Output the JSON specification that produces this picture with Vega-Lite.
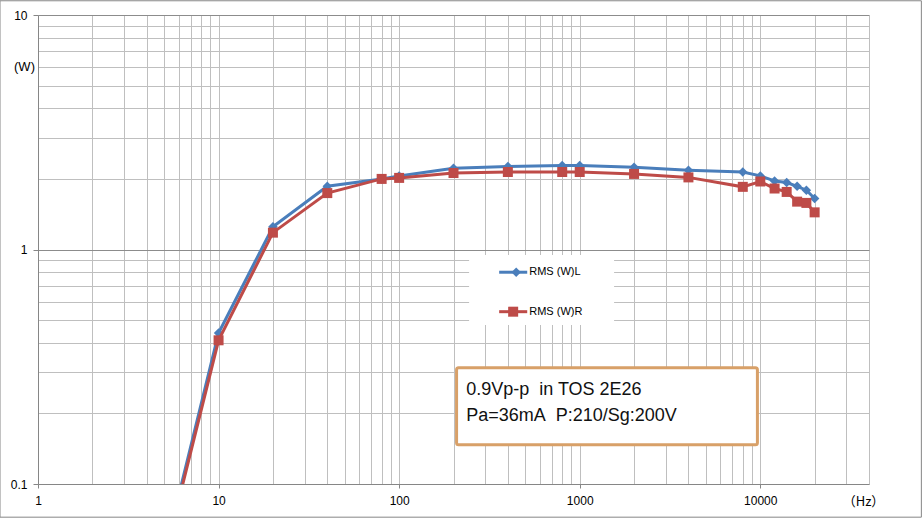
{
  "$schema": "https://vega.github.io/schema/vega-lite/v6.json",
  "autosize": {"type": "none"},
  "width": 831,
  "height": 469,
  "padding": {"left": 38, "top": 15, "right": 55, "bottom": 35},
  "background": "white",
  "config": {"view": {"stroke": null}, "font": "Liberation Sans"},
  "datasets": {
    "rms": [
      {"freq": 5, "series": "RMS (W)L", "w": 0.05},
      {"freq": 10, "series": "RMS (W)L", "w": 0.44},
      {"freq": 20, "series": "RMS (W)L", "w": 1.25},
      {"freq": 40, "series": "RMS (W)L", "w": 1.86},
      {"freq": 80, "series": "RMS (W)L", "w": 2.0},
      {"freq": 100, "series": "RMS (W)L", "w": 2.06},
      {"freq": 200, "series": "RMS (W)L", "w": 2.22},
      {"freq": 400, "series": "RMS (W)L", "w": 2.26},
      {"freq": 800, "series": "RMS (W)L", "w": 2.28},
      {"freq": 1000, "series": "RMS (W)L", "w": 2.28},
      {"freq": 2000, "series": "RMS (W)L", "w": 2.24},
      {"freq": 4000, "series": "RMS (W)L", "w": 2.18},
      {"freq": 8000, "series": "RMS (W)L", "w": 2.14},
      {"freq": 10000, "series": "RMS (W)L", "w": 2.06},
      {"freq": 12000, "series": "RMS (W)L", "w": 1.96},
      {"freq": 14000, "series": "RMS (W)L", "w": 1.93},
      {"freq": 16000, "series": "RMS (W)L", "w": 1.86},
      {"freq": 18000, "series": "RMS (W)L", "w": 1.79},
      {"freq": 20000, "series": "RMS (W)L", "w": 1.65},
      {"freq": 5, "series": "RMS (W)R", "w": 0.048},
      {"freq": 10, "series": "RMS (W)R", "w": 0.41},
      {"freq": 20, "series": "RMS (W)R", "w": 1.18},
      {"freq": 40, "series": "RMS (W)R", "w": 1.74},
      {"freq": 80, "series": "RMS (W)R", "w": 2.0},
      {"freq": 100, "series": "RMS (W)R", "w": 2.02},
      {"freq": 200, "series": "RMS (W)R", "w": 2.12},
      {"freq": 400, "series": "RMS (W)R", "w": 2.14},
      {"freq": 800, "series": "RMS (W)R", "w": 2.14},
      {"freq": 1000, "series": "RMS (W)R", "w": 2.14},
      {"freq": 2000, "series": "RMS (W)R", "w": 2.1},
      {"freq": 4000, "series": "RMS (W)R", "w": 2.03},
      {"freq": 8000, "series": "RMS (W)R", "w": 1.85},
      {"freq": 10000, "series": "RMS (W)R", "w": 1.95},
      {"freq": 12000, "series": "RMS (W)R", "w": 1.82},
      {"freq": 14000, "series": "RMS (W)R", "w": 1.76},
      {"freq": 16000, "series": "RMS (W)R", "w": 1.6},
      {"freq": 18000, "series": "RMS (W)R", "w": 1.58},
      {"freq": 20000, "series": "RMS (W)R", "w": 1.44}
    ]
  },
  "data": {"name": "rms"},
  "layer": [
    {
      "mark": {"type": "line", "clip": true, "strokeWidth": 3, "color": "#4A7EBB"},
      "transform": [{"filter": "datum.series == 'RMS (W)L'"}],
      "encoding": {
        "x": {
          "field": "freq", "type": "quantitative",
          "scale": {"type": "log", "domain": [1, 40000], "nice": false},
          "axis": {
            "values": [1,2,3,4,5,6,7,8,9,10,20,30,40,50,60,70,80,90,100,200,300,400,500,600,700,800,900,1000,2000,3000,4000,5000,6000,7000,8000,9000,10000,20000,30000,40000],
            "labelExpr": "indexof([1,10,100,1000,10000], datum.value) >= 0 ? format(datum.value, 'd') : ''",
            "labelOverlap": false, "labelFlush": false,
            "labelFontSize": 12, "labelColor": "#000", "labelPadding": 7,
            "tickSize": 4, "tickColor": "#868686",
            "tickOpacity": {"condition": {"test": "indexof([1,10,100,1000,10000], datum.value) >= 0", "value": 1}, "value": 0},
            "domainColor": "#868686",
            "grid": true, "gridColor": "#BFBFBF", "gridWidth": 1,
            "title": "（Hz）", "titleFont": "Noto Sans CJK JP", "titleFontWeight": "normal", "titleFontSize": 13,
            "titleX": 825, "titleY": 17, "titleAlign": "center", "titleBaseline": "middle", "titleColor": "#000"
          }
        },
        "y": {
          "field": "w", "type": "quantitative",
          "scale": {"type": "log", "domain": [0.1, 10], "nice": false},
          "axis": {
            "values": [0.1,0.2,0.3,0.4,0.5,0.6,0.7,0.8,0.9,1,2,3,4,5,6,7,8,9,10],
            "labelExpr": "datum.value == 0.1 ? '0.1' : datum.value == 1 ? '1' : datum.value == 10 ? '10' : ''",
            "labelOverlap": false, "labelFlush": false,
            "labelFontSize": 12, "labelColor": "#000", "labelPadding": 6,
            "tickSize": 5, "tickColor": "#868686",
            "tickOpacity": {"condition": {"test": "datum.value == 0.1 || datum.value == 1 || datum.value == 10", "value": 1}, "value": 0},
            "domainColor": "#868686",
            "grid": true, "gridWidth": 1,
            "gridColor": {"condition": {"test": "datum.value == 1 || datum.value == 10", "value": "#8C8C8C"}, "value": "#BFBFBF"},
            "title": "(W)", "titleFontWeight": "normal", "titleFontSize": 13, "titleAngle": 0,
            "titleX": -14, "titleY": 51, "titleAlign": "center", "titleBaseline": "middle", "titleColor": "#000"
          }
        }
      }
    },
    {
      "mark": {"type": "point", "shape": "diamond", "filled": true, "size": 90, "opacity": 1, "color": "#4A7EBB"},
      "transform": [{"filter": "datum.series == 'RMS (W)L' && datum.w >= 0.1"}],
      "encoding": {"x": {"field": "freq", "type": "quantitative"}, "y": {"field": "w", "type": "quantitative"}}
    },
    {
      "mark": {"type": "line", "clip": true, "strokeWidth": 3, "color": "#BE4B48"},
      "transform": [{"filter": "datum.series == 'RMS (W)R'"}],
      "encoding": {"x": {"field": "freq", "type": "quantitative"}, "y": {"field": "w", "type": "quantitative"}}
    },
    {
      "mark": {"type": "point", "shape": "square", "filled": true, "size": 100, "opacity": 1, "color": "#BE4B48"},
      "transform": [{"filter": "datum.series == 'RMS (W)R' && datum.w >= 0.1"}],
      "encoding": {"x": {"field": "freq", "type": "quantitative"}, "y": {"field": "w", "type": "quantitative"}}
    },
    {
      "data": {"values": [{"box": "legend"}]},
      "mark": {"type": "rect", "fill": "white", "stroke": null},
      "encoding": {"x": {"datum": 244}, "x2": {"datum": 1550}, "y": {"datum": 0.948}, "y2": {"datum": 0.477}}
    },
    {
      "data": {"values": [{"label": "RMS (W)L"}]},
      "layer": [
        {"mark": {"type": "rule", "strokeWidth": 3, "color": "#4A7EBB"},
         "encoding": {"x": {"datum": 358}, "x2": {"datum": 512}, "y": {"datum": 0.80}}},
        {"mark": {"type": "point", "shape": "diamond", "filled": true, "size": 90, "opacity": 1, "color": "#4A7EBB"},
         "encoding": {"x": {"datum": 445}, "y": {"datum": 0.80}}},
        {"mark": {"type": "text", "align": "left", "baseline": "middle", "fontSize": 11, "color": "#000", "dx": 2},
         "encoding": {"x": {"datum": 512}, "y": {"datum": 0.80}, "text": {"field": "label"}}}
      ]
    },
    {
      "data": {"values": [{"label": "RMS (W)R"}]},
      "layer": [
        {"mark": {"type": "rule", "strokeWidth": 3, "color": "#BE4B48"},
         "encoding": {"x": {"datum": 358}, "x2": {"datum": 512}, "y": {"datum": 0.543}}},
        {"mark": {"type": "point", "shape": "square", "filled": true, "size": 100, "opacity": 1, "color": "#BE4B48"},
         "encoding": {"x": {"datum": 428}, "y": {"datum": 0.543}}},
        {"mark": {"type": "text", "align": "left", "baseline": "middle", "fontSize": 11, "color": "#000", "dx": 2},
         "encoding": {"x": {"datum": 512}, "y": {"datum": 0.543}, "text": {"field": "label"}}}
      ]
    },
    {
      "data": {"values": [{"box": "note"}]},
      "mark": {"type": "rect", "fill": "white", "stroke": "#D8A068", "strokeWidth": 3, "cornerRadius": 2},
      "encoding": {"x": {"datum": 208}, "x2": {"datum": 9640}, "y": {"datum": 0.313}, "y2": {"datum": 0.147}}
    },
    {
      "data": {"values": [{"note": "0.9Vp-p\u00a0\u00a0in TOS 2E26"}]},
      "mark": {"type": "text", "align": "left", "baseline": "alphabetic", "fontSize": 18, "color": "#111"},
      "encoding": {"x": {"datum": 235}, "y": {"datum": 0.240}, "text": {"field": "note"}}
    },
    {
      "data": {"values": [{"note": "Pa=36mA\u00a0\u00a0P:210/Sg:200V"}]},
      "mark": {"type": "text", "align": "left", "baseline": "alphabetic", "fontSize": 18, "color": "#111"},
      "encoding": {"x": {"datum": 235}, "y": {"datum": 0.1848}, "text": {"field": "note"}}
    },
    {
      "data": {"values": [{"box": "frame"}]},
      "mark": {"type": "rect", "fill": null, "stroke": "#868686", "strokeWidth": 1, "clip": false},
      "encoding": {"x": {"datum": 0.616}, "x2": {"datum": 78000}, "y": {"datum": 11.5}, "y2": {"datum": 0.0722}}
    }
  ]
}
